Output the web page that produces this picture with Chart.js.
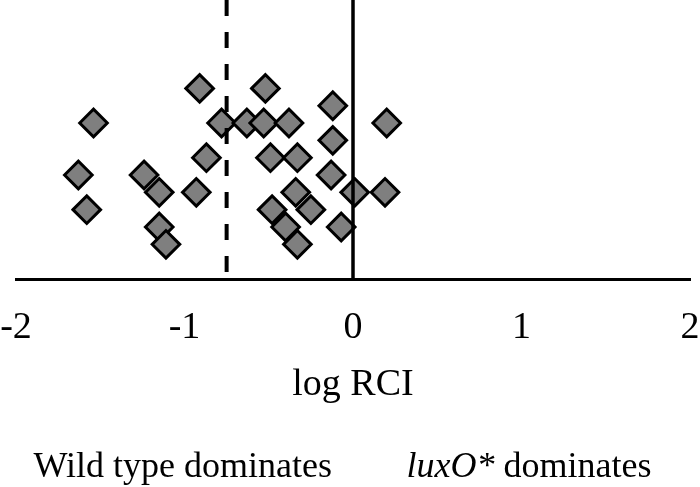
<!DOCTYPE html>
<html>
<head>
<meta charset="utf-8">
<script src="https://cdn.jsdelivr.net/npm/chart.js@4/dist/chart.umd.min.js"></script>
<style>
  html, body { margin: 0; padding: 0; background: #fff; }
  #wrap { width: 700px; height: 487px; position: relative; }
</style>
</head>
<body>
<div id="wrap"><canvas id="chart"></canvas></div>
<script>
// ── DATA ───────────────────────────────────────
const logRCI = [-1.54, -0.91, -0.52, -0.12, -0.78, -0.63, -0.53, -0.38, 0.20,
                -0.12, -0.87, -0.49, -0.33, -1.63, -1.24, -0.13, -1.15, -0.93,
                -0.34, 0.01, 0.19, -1.58, -0.48, -0.25, -1.15, -0.40, -0.07,
                -1.11, -0.33];
const rowLevel = [9, 11, 11, 10, 9, 9, 9, 9, 9,
                  8, 7, 7, 7, 6, 6, 6, 5, 5,
                  5, 5, 5, 4, 4, 4, 3, 3, 3,
                  2, 2];
const xTicks = [-2, -1, 0, 1, 2];
const cutoffX = -0.75;   // dashed line
const neutralX = 0;      // solid line
const yTop = 16.1;
const sideLabels = [
  { at: -1.01, parts: [{ text: 'Wild type dominates', italic: false }] },
  { at: 1.045, parts: [{ text: 'luxO*', italic: true }, { text: ' dominates', italic: false }] }
];

const FONT = '"Liberation Serif", "Times New Roman", serif';

const points = logRCI.map((x, i) => ({ x: x, y: rowLevel[i] }));

// texto inferior
const sideLabelPlugin = {
  id: 'sideLabels',
  afterDraw(chart) {
    const ctx = chart.ctx;
    const xs = chart.scales.x;
    ctx.save();
    ctx.fillStyle = '#000';
    ctx.textBaseline = 'alphabetic';
    sideLabels.forEach(lbl => {
      let total = 0;
      lbl.parts.forEach(p => {
        ctx.font = (p.italic ? 'italic ' : '') + '36px ' + FONT;
        p.w = ctx.measureText(p.text).width;
        total += p.w;
      });
      let cx = xs.getPixelForValue(lbl.at) - total / 2;
      lbl.parts.forEach(p => {
        ctx.font = (p.italic ? 'italic ' : '') + '36px ' + FONT;
        ctx.textAlign = 'left';
        ctx.fillText(p.text, cx, 477);
        cx += p.w;
      });
    });
    ctx.restore();
  }
};

new Chart(document.getElementById('chart'), {
  type: 'scatter',
  data: {
    datasets: [
      {
        type: 'line',
        data: [{ x: neutralX, y: 0 }, { x: neutralX, y: yTop }],
        borderColor: '#000',
        borderWidth: 3.5,
        pointRadius: 0,
        fill: false
      },
      {
        type: 'line',
        data: [{ x: cutoffX, y: yTop }, { x: cutoffX, y: 0 }],
        borderColor: '#000',
        borderWidth: 4,
        borderDash: [16, 16],
        pointRadius: 0,
        fill: false
      },
      {
        data: points,
        pointStyle: 'rectRot',
        pointRadius: 13.8,
        pointHoverRadius: 13.8,
        backgroundColor: '#7f7f7f',
        borderColor: '#000',
        borderWidth: 3
      }
    ]
  },
  options: {
    responsive: true,
    maintainAspectRatio: false,
    animation: false,
    layout: { autoPadding: false, padding: { left: 16, right: 10, top: 0, bottom: 0 } },
    plugins: {
      legend: { display: false },
      tooltip: { enabled: false }
    },
    scales: {
      x: {
        type: 'linear',
        min: -2,
        max: 2,
        afterBuildTicks: s => { s.ticks = xTicks.map(v => ({ value: v })); },
        afterFit: s => { s.height = 208; s.paddingLeft = 0; s.paddingRight = 0; },
        grid: { display: false, drawTicks: false },
        border: { display: true, color: '#000', width: 3 },
        ticks: {
          color: '#000',
          padding: 26,
          maxRotation: 0,
          autoSkip: false,
          font: { family: FONT, size: 38 }
        },
        title: {
          display: true,
          text: 'log RCI',
          color: '#000',
          font: { family: FONT, size: 38 },
          padding: { top: 0, bottom: 79 }
        }
      },
      y: {
        display: false,
        min: 0,
        max: yTop
      }
    }
  },
  plugins: [sideLabelPlugin]
});
</script>
</body>
</html>
